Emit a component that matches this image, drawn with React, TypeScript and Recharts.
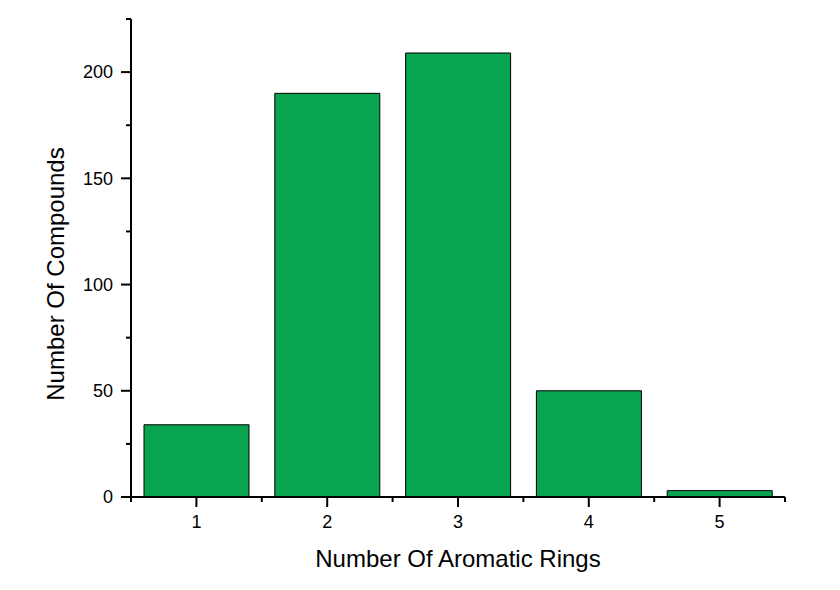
import { BarChart, Bar, XAxis, YAxis } from 'recharts'

const rings = [1, 2, 3, 4, 5]
const compounds = [34, 190, 209, 50, 3]
const yTicks = [0, 25, 50, 75, 100, 125, 150, 175, 200, 225]
const xTicks = [0.5, 1, 1.5, 2, 2.5, 3, 3.5, 4, 4.5, 5, 5.5]

const data = rings.map((r, i) => ({ rings: r, count: compounds[i] }))

const font = '"Liberation Sans", Arial, sans-serif'

// major ticks get a label, minor ones just a short line
function YTick(props: any) {
  const { x, y, payload } = props
  const major = payload.value % 50 === 0
  return (
    <g>
      <line x1={x - (major ? 10 : 5)} x2={x} y1={y} y2={y} stroke="#000" strokeWidth={2} />
      {major && (
        <text x={x - 18} y={y} dy="0.35em" textAnchor="end" fontSize={18} fontFamily={font} fill="#000">
          {payload.value}
        </text>
      )}
    </g>
  )
}

function XTick(props: any) {
  const { x, y, payload } = props
  const major = Number.isInteger(payload.value)
  return (
    <g>
      <line x1={x} x2={x} y1={y} y2={y + (major ? 10 : 5)} stroke="#000" strokeWidth={2} />
      {major && (
        <text x={x} y={y + 25} dy="0.35em" textAnchor="middle" fontSize={18} fontFamily={font} fill="#000">
          {payload.value}
        </text>
      )}
    </g>
  )
}

export default function App() {
  return (
    <div style={{ fontFamily: font }}>
      <BarChart width={820} height={570} data={data} margin={{ top: 11, right: 43, left: 0, bottom: 6 }}>
        <XAxis
          dataKey="rings"
          type="number"
          domain={[0.5, 5.5]}
          ticks={xTicks}
          interval={0}
          height={75}
          tickSize={0}
          tickMargin={0}
          tickLine={false}
          tick={<XTick />}
          axisLine={{ stroke: '#000', strokeWidth: 2 }}
          label={{ value: 'Number Of Aromatic Rings', position: 'center', dy: 24, fontSize: 24, fill: '#000', fontFamily: font }}
        />
        <YAxis
          type="number"
          domain={[0, 225]}
          ticks={yTicks}
          interval={0}
          width={123}
          tickSize={0}
          tickMargin={0}
          tickLine={false}
          tick={<YTick />}
          axisLine={{ stroke: '#000', strokeWidth: 2 }}
          label={{ value: 'Number Of Compounds', angle: -90, position: 'center', dx: -14, dy: 16, fontSize: 24, fill: '#000', fontFamily: font }}
        />
        <Bar dataKey="count" fill="#08A450" stroke="#000" strokeWidth={1} barSize={105} isAnimationActive={false} />
      </BarChart>
    </div>
  )
}
